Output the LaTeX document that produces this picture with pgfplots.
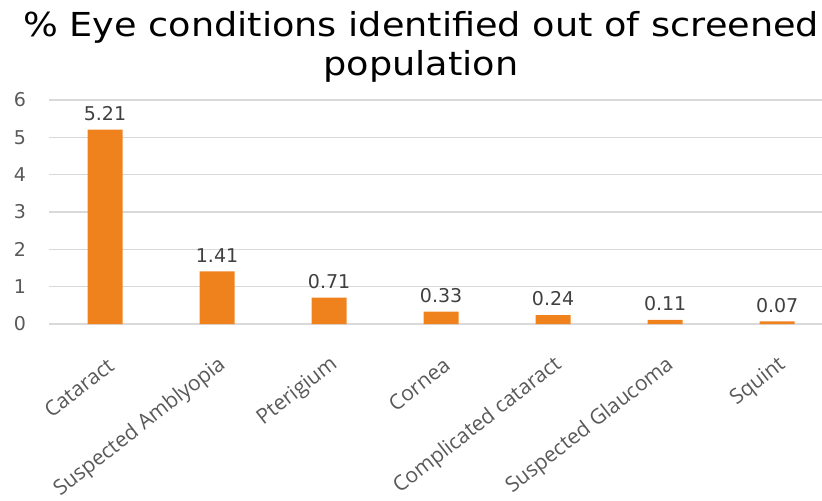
\documentclass[border=0pt]{standalone}
\usepackage{fontspec}
\usepackage{pgfplots}
\pgfplotsset{compat=1.18}
\setmainfont{Open Sans}
\newfontfamily\dejavu{DejaVu Sans}
\definecolor{barorange}{HTML}{F0821E}
\definecolor{gridgray}{HTML}{D9D9D9}
\definecolor{ticktext}{HTML}{595959}
\definecolor{labtext}{HTML}{404040}
\begin{document}
\begin{tikzpicture}[x=1pt,y=1pt]
\path[use as bounding box] (0,0) rectangle (411,250);
\begin{axis}[
  at={(24.5pt,88pt)}, anchor=south west,
  scale only axis, width=386.5pt, height=112pt,
  xmin=-0.5, xmax=6.4, ymin=0, ymax=6,
  ytick={0,1,2,3,4,5,6},
  xtick={0,1,2,3,4,5,6},
  xticklabels={Cataract,Suspected Amblyopia,Pterigium,Cornea,Complicated cataract,Suspected Glaucoma,Squint},
  axis line style={draw=none},
  major tick length=0pt,
  ymajorgrids, grid style={gridgray, line width=0.6pt},
  yticklabel style={font=\dejavu\fontsize{9.5}{10}\selectfont, text=ticktext, xshift=-8pt},
  xticklabel style={font=\fontsize{10.5}{12}\selectfont, text=ticktext, rotate=38, anchor=east, yshift=-17pt, xshift=-6pt},
  /pgf/number format/assume math mode=true,
  clip=false,
]
\addplot[ybar, bar width=17.5pt, fill=barorange, draw=none,
  nodes near coords, point meta=explicit symbolic,
  every node near coord/.append style={font=\dejavu\fontsize{9.5}{10}\selectfont, text=labtext, yshift=1pt}]
  table[meta=lab] {
x y lab
0 5.21 5.21
1 1.41 1.41
2 0.71 0.71
3 0.33 0.33
4 0.24 0.24
5 0.11 0.11
6 0.07 0.07
};
\end{axis}
\node[font=\dejavu\fontsize{16.5}{18}\selectfont, anchor=base, xscale=1.11] at (210.5,232) {\% Eye conditions identified out of screened};
\node[font=\dejavu\fontsize{16.5}{18}\selectfont, anchor=base, xscale=1.11] at (210.5,212.5) {population};
\end{tikzpicture}
\end{document}
